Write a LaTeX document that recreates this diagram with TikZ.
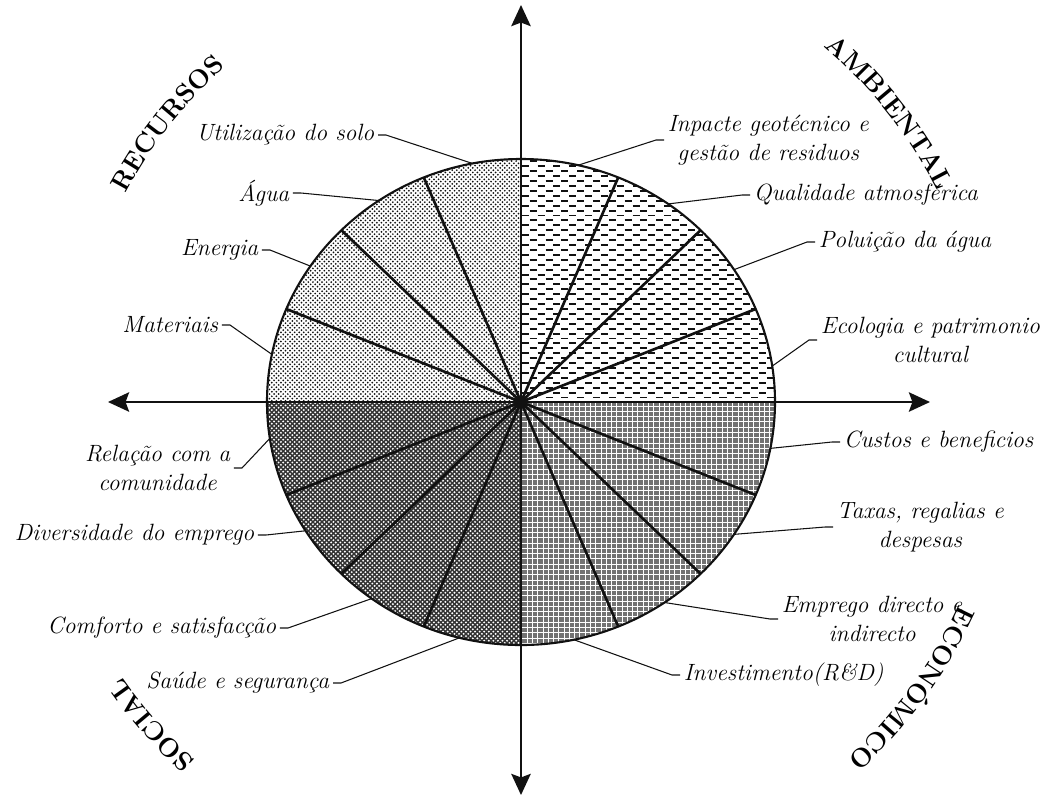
\documentclass[tikz,border=0pt]{standalone}
\usepackage{tikz}
\usetikzlibrary{arrows.meta, patterns, decorations.text}
\usepackage{xcolor}
\definecolor{inkBlack}{HTML}{111111}
\newcommand\catfont{\fontsize{15}{18}\selectfont\bfseries}
\pgfdeclarepatternformonly{hdashes}{\pgfqpoint{-1pt}{-1pt}}{\pgfqpoint{10pt}{7pt}}{\pgfqpoint{9pt}{5.6pt}}{
  \pgfsetlinewidth{1.1pt}
  \pgfpathmoveto{\pgfqpoint{0pt}{0pt}}\pgfpathlineto{\pgfqpoint{4pt}{0pt}}
  \pgfpathmoveto{\pgfqpoint{4.5pt}{2.8pt}}\pgfpathlineto{\pgfqpoint{8.5pt}{2.8pt}}
  \pgfusepath{stroke}}
\pgfdeclarepatternformonly{finedots}{\pgfqpoint{-1pt}{-1pt}}{\pgfqpoint{3.6pt}{3.6pt}}{\pgfqpoint{2.6pt}{2.6pt}}{
  \pgfpathcircle{\pgfqpoint{0pt}{0pt}}{.55pt}
  \pgfpathcircle{\pgfqpoint{1.3pt}{1.3pt}}{.55pt}
  \pgfusepath{fill}}
\pgfdeclarepatternformonly{specks}{\pgfqpoint{-1pt}{-1pt}}{\pgfqpoint{3.6pt}{3.6pt}}{\pgfqpoint{2.6pt}{2.6pt}}{
  \pgfpathcircle{\pgfqpoint{0pt}{0pt}}{.6pt}
  \pgfpathcircle{\pgfqpoint{1.3pt}{1.3pt}}{.6pt}
  \pgfusepath{fill}}
\tikzset{
  lbl/.style={font=\fontsize{13.4}{16.5}\selectfont\itshape, inner sep=2pt, align=center},
  leader/.style={draw=inkBlack, line width=0.6pt},
  spoke/.style={draw=inkBlack, line width=1.5pt},
  rim/.style={draw=inkBlack, line width=1.2pt},
  axisarrow/.style={draw=inkBlack, -{Stealth[length=12pt, width=11pt, inset=2pt]}, line width=1.4pt},
  recfill/.style={fill=white, postaction={pattern=finedots, pattern color=inkBlack}},
  ambfill/.style={fill=white, postaction={pattern=hdashes, pattern color=inkBlack}},
  socfill/.style={fill=black!80, postaction={pattern=specks, pattern color=white}},
  ecofill/.style={fill=black!55, postaction={pattern=grid, pattern color=white}},
}

\begin{document}
\begin{tikzpicture}[x=0.02cm, y=0.02cm]
\useasboundingbox[fill=white] (-521,-394) rectangle (529,402);
\coordinate (O) at (0,0);
\path[ambfill] (O) -- (254,0) arc[start angle=0, end angle=90, x radius=254, y radius=243] -- cycle;
\path[recfill] (O) -- (0,243) arc[start angle=90, end angle=180, x radius=254, y radius=243] -- cycle;
\path[socfill] (O) -- (-254,0) arc[start angle=180, end angle=270, x radius=254, y radius=243] -- cycle;
\path[ecofill] (O) -- (0,-243) arc[start angle=270, end angle=360, x radius=254, y radius=243] -- cycle;
\foreach \a in {22.5,45,...,337.5}
  \draw[spoke] (O) -- ({254*cos(\a)},{243*sin(\a)});
\draw[rim] (O) ellipse[x radius=254, y radius=243];

\coordinate (top) at (0,397);
\coordinate (bottom) at (0,-393);
\coordinate (left) at (-413,0);
\coordinate (right) at (409,0);
\draw[axisarrow] (O) -- (top);
\draw[axisarrow] (O) -- (bottom);
\draw[axisarrow] (O) -- (left);
\draw[axisarrow] (O) -- (right);
\fill[inkBlack] (O) circle (6.5);

\foreach \n/\a in {solo/101, agua/124, energia/146, materiais/168.7,
                   impacte/77, atmos/54.6, poluicao/33, ecologia/8.5,
                   custos/-11, taxas/-33, emprego/-55.6, invest/-78,
                   relacao/188.6, diversidade/212, conforto/234, saude/256}
  \coordinate (e-\n) at ({254*cos(\a)},{243*sin(\a)});

\node[lbl, anchor=east] (solo) at (-143,267) {Utilização do solo};
\node[lbl, anchor=east] (agua) at (-228,209) {Água};
\node[lbl, anchor=east] (energia) at (-259,152) {Energia};
\node[lbl, anchor=east] (materiais) at (-299,77) {Materiais};
\node[lbl, anchor=west] (impacte) at (143,262) {Inpacte geotécnico e\\gestão de residuos};
\node[lbl, anchor=west] (atmos) at (229,207) {Qualidade atmosférica};
\node[lbl, anchor=west] (poluicao) at (294,160) {Poluição da água};
\node[lbl, anchor=west] (ecologia) at (296,62) {Ecologia e patrimonio\\cultural};
\node[lbl, anchor=west] (custos) at (319,-40) {Custos e beneficios};
\node[lbl, anchor=west] (taxas) at (312,-125) {Taxas, regalias e\\despesas};
\node[lbl, anchor=west] (emprego) at (257,-217) {Emprego directo e\\indirecto};
\node[lbl, anchor=west] (invest) at (159,-273) {Investimento(R\&D)};
\node[lbl, anchor=east] (relacao) at (-287,-66) {Relação com a\\comunidade};
\node[lbl, anchor=east] (diversidade) at (-263,-133) {Diversidade do emprego};
\node[lbl, anchor=east] (conforto) at (-241,-226) {Comforto e satisfacção};
\node[lbl, anchor=east] (saude) at (-188,-281) {Saúde e segurança};

\foreach \n in {solo, agua, energia, materiais, relacao, diversidade, conforto, saude}
  \draw[leader] (\n.east) -- ++(8,0) -- (e-\n);
\foreach \n in {impacte, atmos, poluicao, ecologia, custos, taxas, emprego, invest}
  \draw[leader] (\n.west) -- ++(-8,0) -- (e-\n);

\path[decorate, decoration={text along path, text align=center, text={|\catfont|RECURSOS}}]
  (166.8:447) arc[start angle=166.8, end angle=116.8, radius=447];
\path[decorate, decoration={text along path, text align=center, text={|\catfont|AMBIENTAL}}]
  (63.2:467) arc[start angle=63.2, end angle=13.2, radius=467];
\path[decorate, decoration={text along path, text align=center, text={|\catfont|ECONÓMICO}}]
  (-11.2:483) arc[start angle=-11.2, end angle=-61.2, radius=483];
\path[decorate, decoration={text along path, text align=center, text={|\catfont|SOCIAL}}]
  (246.2:484) arc[start angle=246.2, end angle=196.2, radius=484];
\end{tikzpicture}
\end{document}
